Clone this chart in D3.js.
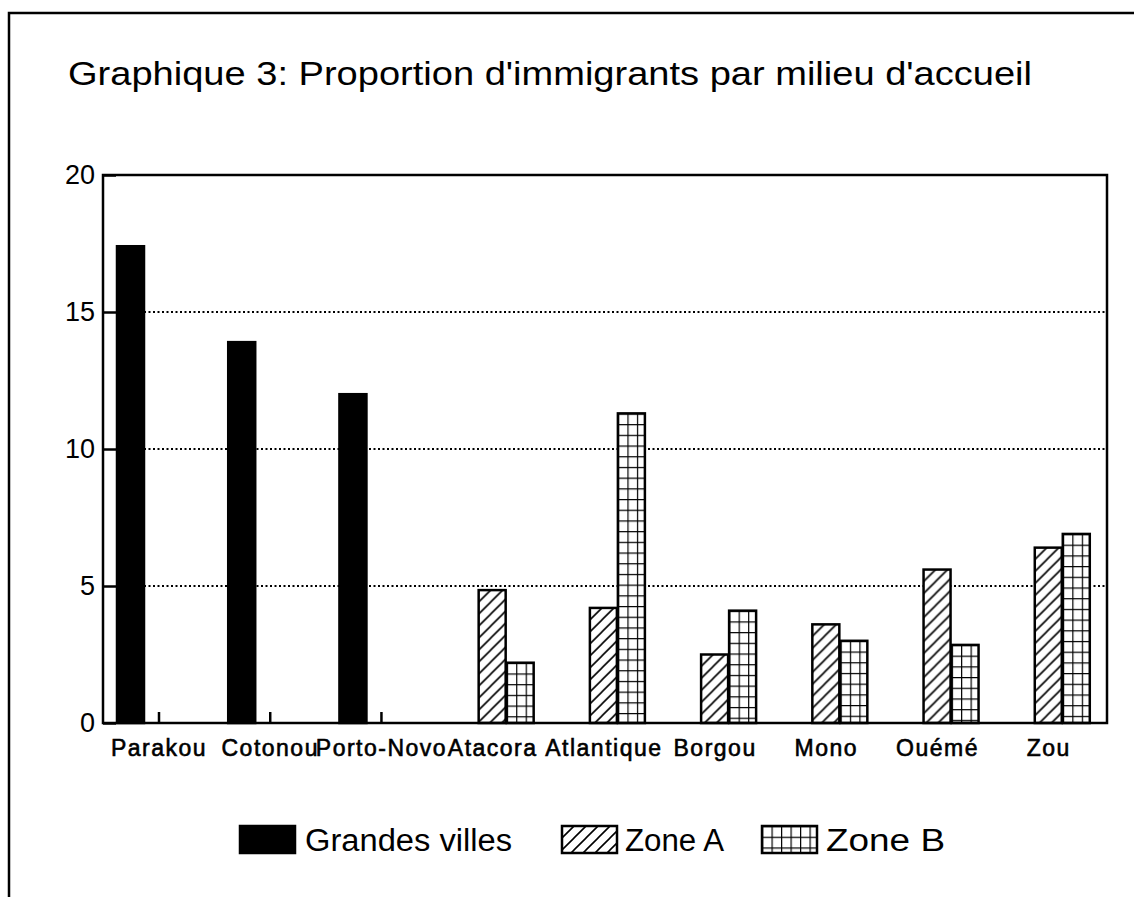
<!DOCTYPE html>
<html>
<head>
<meta charset="utf-8">
<script src="https://cdn.jsdelivr.net/npm/d3@7"></script>
<style>
  body { margin: 0; background: #fff; }
  svg { display: block; }
</style>
</head>
<body>
<div id="chart"></div>
<script>
var categories = ['Parakou', 'Cotonou', 'Porto-Novo', 'Atacora', 'Atlantique', 'Borgou', 'Mono', 'Ouémé', 'Zou']
var seriesNames = ['Grandes villes', 'Zone A', 'Zone B']
var grandesVilles = [17.4, 13.9, 12.0, null, null, null, null, null, null]
var zoneA = [null, null, null, 4.85, 4.2, 2.5, 3.6, 5.6, 6.4]
var zoneB = [null, null, null, 2.2, 11.3, 4.1, 3.0, 2.85, 6.9]
var yTicks = [0, 5, 10, 15, 20]
var title = "Graphique 3: Proportion d'immigrants par milieu d'accueil"

var chart = (function(){

    var W = 1134, H = 897
    var left = 103, right = 1107, top = 175, bottom = 723
    var sans = '"Liberation Sans", Arial, sans-serif'

    var svg = d3.select('#chart').append('svg')
        .attr('width', W)
        .attr('height', H)

    var defs = svg.append('defs')

    // outer frame of the page
    svg.append('rect')
        .attr('x', 9).attr('y', 13)
        .attr('width', 1140).attr('height', 920)
        .attr('fill', 'none')
        .attr('stroke', '#000')
        .attr('stroke-width', 2.5)

    svg.append('text')
        .attr('x', 68)
        .attr('y', 85)
        .attr('font-family', sans)
        .attr('font-size', 34)
        .attr('textLength', 964)
        .attr('lengthAdjust', 'spacingAndGlyphs')
        .text(title)

    var y = d3.scaleLinear().domain([0, 20]).range([bottom, top])
    var x = d3.scaleBand().domain(categories).range([117, 1118])
    var inner = d3.scaleBand().domain(seriesNames).range([0, 84])

    // dotted grid
    svg.append('g').selectAll('line')
        .data([5, 10, 15])
        .enter().append('line')
        .attr('x1', left + 14).attr('x2', right)
        .attr('y1', function(d){ return y(d) }).attr('y2', function(d){ return y(d) })
        .attr('stroke', '#000')
        .attr('stroke-width', 2)
        .attr('stroke-dasharray', '2,2.5')

    // y axis
    var yAxis = svg.append('g')
        .attr('transform', 'translate(' + left + ',0)')
        .call(d3.axisLeft(y).tickValues(yTicks).tickSize(-13).tickPadding(8))
    yAxis.select('.domain').remove()
    yAxis.selectAll('line').attr('stroke-width', 2.5)
    yAxis.selectAll('text')
        .attr('font-family', sans)
        .attr('font-size', 27)
        .attr('fill', '#000')

    // x axis: ticks sit at the middle of the three slots
    var shift = inner.range()[1] / 2 - x.bandwidth() / 2
    var xAxis = svg.append('g')
        .attr('transform', 'translate(' + shift + ',' + bottom + ')')
        .call(d3.axisBottom(x).tickSize(-11).tickPadding(17))
    xAxis.select('.domain').remove()
    xAxis.selectAll('line').attr('stroke-width', 2.5)
    xAxis.selectAll('text')
        .attr('font-family', sans)
        .attr('font-size', 23)
        .attr('letter-spacing', 1.5)
        .attr('fill', '#000')
        .attr('stroke', '#000')
        .attr('stroke-width', 0.6)

    var bars = []
    var lists = [grandesVilles, zoneA, zoneB]
    for(var s = 0; s < seriesNames.length; s++){
        for(var i = 0; i < categories.length; i++){
            if(lists[s][i] === null) continue
            bars.push({ cat: categories[i], series: seriesNames[s], s: s, value: lists[s][i], id: 'p' + s + '-' + i })
        }
    }

    function barX(d){ return x(d.cat) + inner(d.series) }

    function addPattern(id, kind, px, py){
        var p = defs.append('pattern')
            .attr('id', id)
            .attr('patternUnits', 'userSpaceOnUse')
            .attr('x', px).attr('y', py)
        if(kind === 1){
            p.attr('width', 12).attr('height', 12)
            p.append('rect').attr('width', 12).attr('height', 12).attr('fill', '#fff')
            p.append('path')
                .attr('d', 'M0,12L12,0M-3,3L3,-3M9,15L15,9')
                .attr('stroke', '#000').attr('stroke-width', 1.6)
        } else {
            p.attr('width', 9.5).attr('height', 10.7)
            p.append('rect').attr('width', 9.5).attr('height', 10.7).attr('fill', '#fff')
            p.append('path')
                .attr('d', 'M0,0H9.5M0,0V10.7')
                .attr('stroke', '#000').attr('stroke-width', 2.4)
        }
    }

    bars.forEach(function(d){
        if(d.s > 0) addPattern(d.id, d.s, barX(d), y(d.value))
    })

    svg.append('g').selectAll('rect')
        .data(bars)
        .enter().append('rect')
        .attr('x', barX)
        .attr('y', function(d){ return y(d.value) })
        .attr('width', inner.bandwidth() - 1)
        .attr('height', function(d){ return y(0) - y(d.value) })
        .attr('fill', function(d){ return d.s === 0 ? '#000' : 'url(#' + d.id + ')' })
        .attr('stroke', '#000')
        .attr('stroke-width', 2.5)

    // plot frame
    svg.append('rect')
        .attr('x', left).attr('y', top)
        .attr('width', right - left).attr('height', bottom - top)
        .attr('fill', 'none')
        .attr('stroke', '#000')
        .attr('stroke-width', 2.5)

    // legend
    var legend = [
        { name: 'Grandes villes', s: 0, box: 240, tx: 305, tw: 207 },
        { name: 'Zone A', s: 1, box: 562, tx: 625, tw: 99 },
        { name: 'Zone B', s: 2, box: 762, tx: 826, tw: 119 }
    ]
    legend.forEach(function(l){
        if(l.s > 0) addPattern('leg' + l.s, l.s, l.box, 826)
    })
    var lg = svg.append('g').selectAll('g')
        .data(legend)
        .enter().append('g')
    lg.append('rect')
        .attr('x', function(d){ return d.box })
        .attr('y', 826)
        .attr('width', 55)
        .attr('height', 27)
        .attr('fill', function(d){ return d.s === 0 ? '#000' : 'url(#leg' + d.s + ')' })
        .attr('stroke', '#000')
        .attr('stroke-width', 2.5)
    lg.append('text')
        .attr('x', function(d){ return d.tx })
        .attr('y', 851)
        .attr('font-family', sans)
        .attr('font-size', 31)
        .attr('textLength', function(d){ return d.tw })
        .attr('lengthAdjust', 'spacingAndGlyphs')
        .text(function(d){ return d.name })

    return svg
})()
</script>
</body>
</html>
